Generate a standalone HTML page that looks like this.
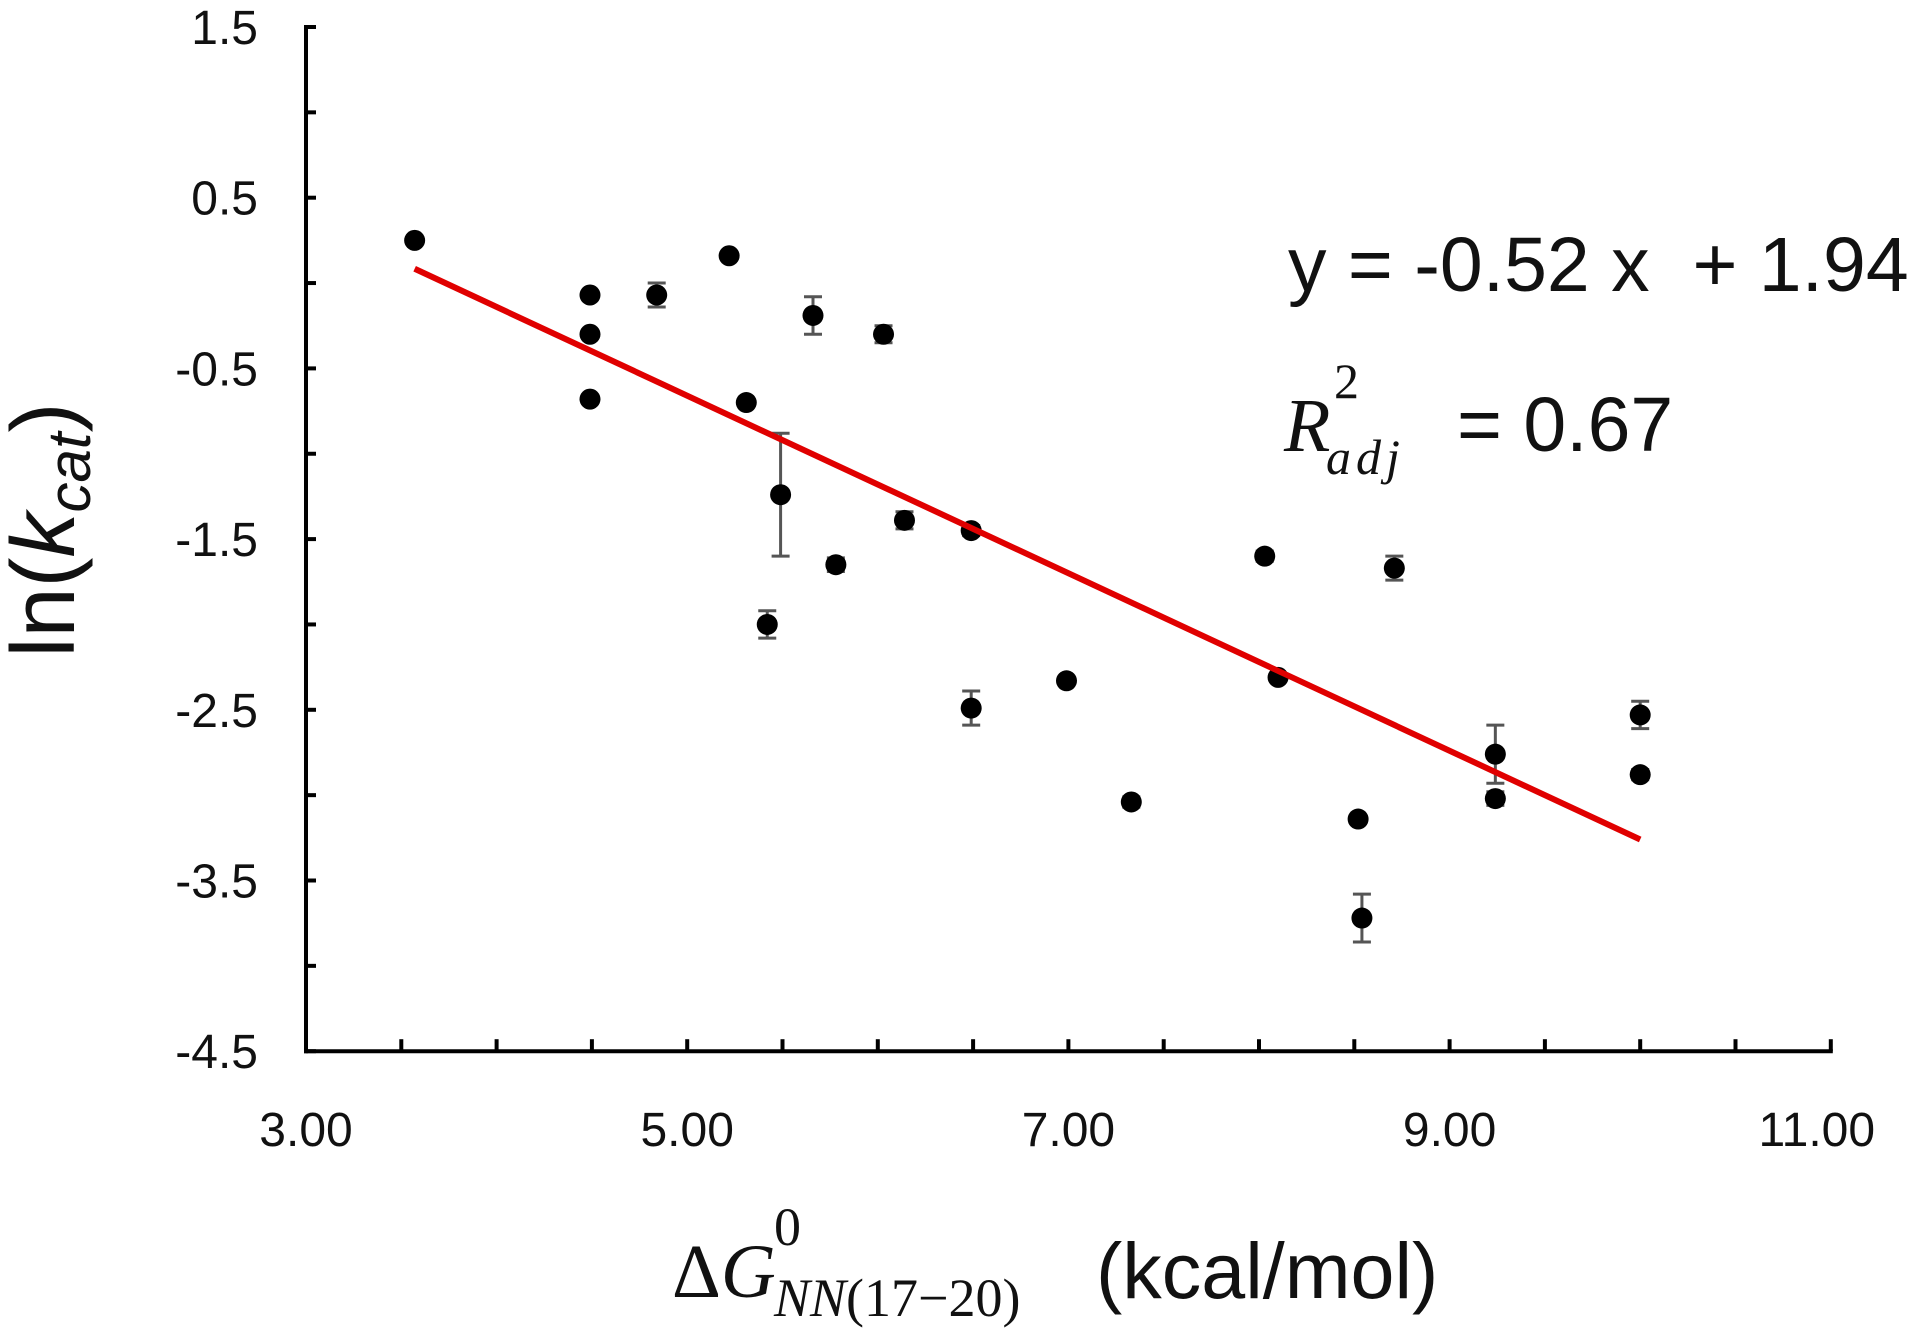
<!DOCTYPE html>
<html><head><meta charset="utf-8"><style>
html,body{margin:0;padding:0;background:#fff;width:1920px;height:1333px;overflow:hidden}
svg{display:block}
.sans{font-family:"Liberation Sans",sans-serif}
.serif{font-family:"Liberation Serif",serif}
</style></head><body>
<svg id="chart" width="1920" height="1333" viewBox="0 0 1920 1333">
<g id="axes"></g>
<g id="marks"></g>
<g id="fit"></g>
<text class="sans" x="1288" y="291" font-size="77" fill="#111" xml:space="preserve">y = -0.52 x  + 1.94</text>
<g>
<text class="serif" font-style="italic" x="1284" y="451" font-size="76" fill="#111">R</text>
<text class="serif" x="1334" y="398" font-size="50" fill="#111">2</text>
<text class="serif" font-style="italic" x="1326" y="474" font-size="50" fill="#111" letter-spacing="5">adj</text>
<text class="sans" x="1457" y="451" font-size="77" fill="#111">= 0.67</text>
</g>
<text class="sans" transform="translate(74,530) rotate(-90)" text-anchor="middle" font-size="90" fill="#111">ln(<tspan font-style="italic">k</tspan><tspan font-style="italic" font-size="60" dy="16">cat</tspan><tspan dy="-16">)</tspan></text>
<g>
<text class="serif" x="672" y="1297" font-size="76" fill="#111">Δ<tspan font-style="italic">G</tspan></text>
<text class="serif" x="774" y="1245" font-size="54" fill="#111">0</text>
<text class="serif" font-style="italic" x="774" y="1316" font-size="54" fill="#111">NN<tspan font-style="normal">(17−20)</tspan></text>
<text class="sans" x="1096" y="1298" font-size="79" fill="#111">(kcal/mol)</text>
</g>
<script>
const xs=[3.57,4.49,4.49,4.49,4.84,5.22,5.31,5.66,5.49,5.42,5.78,6.03,6.14,6.49,6.49,6.99,7.33,8.03,8.10,8.71,8.52,8.54,9.24,9.24,10.0,10.0];
const ys=[0.25,-0.07,-0.30,-0.68,-0.07,0.16,-0.70,-0.19,-1.24,-2.00,-1.65,-0.30,-1.39,-1.45,-2.49,-2.33,-3.04,-1.60,-2.31,-1.67,-3.14,-3.72,-2.76,-3.02,-2.53,-2.88];
const errs=[0,0,0,0,0.07,0,0,0.11,0.36,0.08,0.04,0.05,0.05,0.03,0.10,0,0.03,0.03,0,0.07,0,0.14,0.17,0.04,0.08,0.03];
const yTicks=["1.5","0.5","-0.5","-1.5","-2.5","-3.5","-4.5"];
const xTicks=["3.00","5.00","7.00","9.00","11.00"];
const slope=-0.52, intercept=1.94, fitRange=[3.57,10.0];
const NS="http://www.w3.org/2000/svg";
const X=v=>306+(v-3)*190.6;
const Y=v=>27+(1.5-v)*170.7;
function mk(tag,attrs,parent){const e=document.createElementNS(NS,tag);for(const k in attrs)e.setAttribute(k,attrs[k]);parent.appendChild(e);return e;}
const ax=document.getElementById('axes');
let l=mk('line',{x1:X(3),y1:Y(1.5)-2,x2:X(3),y2:Y(-4.5)+2,stroke:'#000','stroke-width':4},ax);


l=mk('line',{x1:X(3)-2,y1:Y(-4.5),x2:X(11)+2,y2:Y(-4.5),stroke:'#000','stroke-width':4},ax);


for(let v=1.5;v>=-4.5-1e-9;v-=0.5){const t=mk('line',{x1:X(3),y1:Y(v),x2:X(3)+10,y2:Y(v),stroke:'#000','stroke-width':4},ax);

}
for(let v=3;v<=11+1e-9;v+=0.5){const t=mk('line',{x1:X(v),y1:Y(-4.5),x2:X(v),y2:Y(-4.5)-12,stroke:'#000','stroke-width':4},ax);

}
yTicks.forEach(s=>{const t=mk('text',{x:258,y:Y(parseFloat(s))+17,'text-anchor':'end','font-size':48,'class':'sans',fill:'#111'},ax);t.textContent=s;

});
xTicks.forEach(s=>{const t=mk('text',{x:X(parseFloat(s))-(s==="11.00"?14:0),y:1146,'text-anchor':'middle','font-size':48,'class':'sans',fill:'#111'},ax);t.textContent=s;

});
const mg=document.getElementById('marks');
xs.forEach((x,i)=>{const cx=X(x),cy=Y(ys[i]);
if(errs[i]>0){const eh=Y(ys[i]+errs[i]),el=Y(ys[i]-errs[i]);
const g=mk('g',{stroke:'#555','stroke-width':3},mg);


mk('line',{x1:cx,y1:eh,x2:cx,y2:el},g);mk('line',{x1:cx-9,y1:eh,x2:cx+9,y2:eh},g);mk('line',{x1:cx-9,y1:el,x2:cx+9,y2:el},g);}
const c=mk('circle',{cx:cx,cy:cy,r:10.5,fill:'#000'},mg);

});
const fg=document.getElementById('fit');
const fl=mk('line',{x1:X(fitRange[0]),y1:Y(slope*fitRange[0]+intercept),x2:X(fitRange[1]),y2:Y(slope*fitRange[1]+intercept),stroke:'#e00000','stroke-width':6},fg);


</script>
</svg>
</body></html>
